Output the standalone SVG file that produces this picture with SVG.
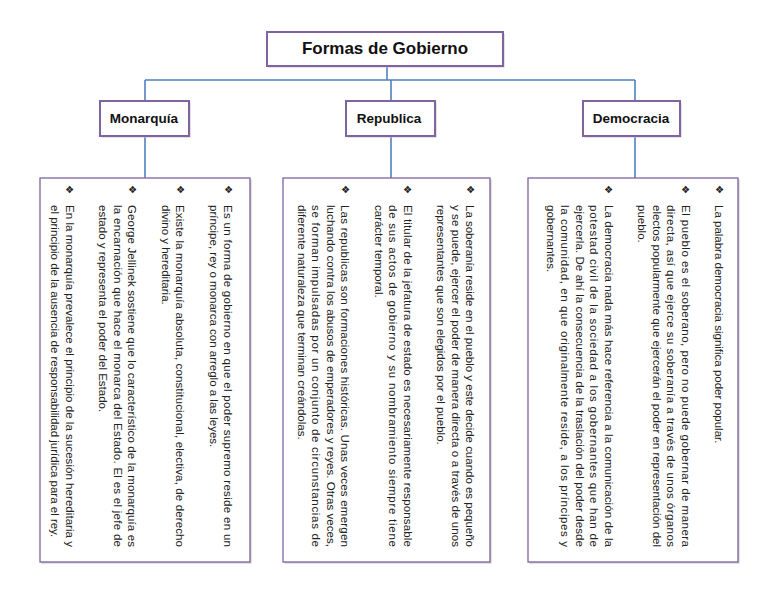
<svg xmlns="http://www.w3.org/2000/svg" width="768" height="594" viewBox="0 0 768 594">
<style>
.hb{fill:#fff;stroke:#8064A2;stroke-width:2}
.sh{fill:#c8c8c8;stroke:none}
.bb{fill:#fff;stroke:#8064A2;stroke-width:1.3}
.ht{font-family:"Liberation Sans",Arial,sans-serif;font-weight:bold;fill:#111;text-anchor:middle}
.tx{font-family:"Liberation Sans",Arial,sans-serif;font-size:11.5px;fill:#222}
.bu{font-family:"DejaVu Sans",sans-serif;font-size:10px;fill:#222}
.cn{fill:none;stroke:#4F81BD;stroke-width:1.6}
</style>
<rect width="768" height="594" fill="#fff"/>
<g id="connectors">
<path class="cn" d="M387 66V80M145 80H635M145 80V101M391 80V101M635 80V101M145 136V178M391 136V178M635 136V178"/>
</g>
<g id="title">
<rect class="sh" x="268.5" y="33.5" width="236" height="34"/>
<rect class="hb" x="267" y="32" width="236" height="34"/>
<text class="ht" x="385" y="54" font-size="17">Formas de Gobierno</text>
</g>
<g id="monarquia">
<rect class="sh" x="101.5" y="102.5" width="89" height="35"/>
<rect class="hb" x="100" y="101" width="89" height="35"/>
<text class="ht" x="144" y="123" font-size="13.5">Monarquía</text>
</g>
<g id="republica">
<rect class="sh" x="347.5" y="102.5" width="89" height="35"/>
<rect class="hb" x="346" y="101" width="89" height="35"/>
<text class="ht" x="389" y="123" font-size="13.5">Republica</text>
</g>
<g id="democracia">
<rect class="sh" x="584.5" y="102.5" width="97" height="35"/>
<rect class="hb" x="583" y="101" width="97" height="35"/>
<text class="ht" x="631" y="123" font-size="13.5">Democracia</text>
</g>
<g id="monarquia-text">
<rect class="sh" x="41.5" y="179.5" width="210" height="384"/>
<rect class="bb" x="40" y="178" width="210" height="384"/>
<g transform="translate(224,205) rotate(90)">
<text class="bu" x="-20" y="-0.5">❖</text>
<text class="tx" x="0" y="0" textLength="342" lengthAdjust="spacing">Es un forma de gobierno en que el poder supremo reside en un</text>
<text class="tx" x="0" y="14.5">príncipe, rey o monarca con arreglo a las leyes.</text>
<text class="bu" x="-20" y="47.5">❖</text>
<text class="tx" x="0" y="48" textLength="342" lengthAdjust="spacing">Existe la monarquía absoluta, constitucional, electiva, de derecho</text>
<text class="tx" x="0" y="62.5">divino y hereditaria.</text>
<text class="bu" x="-20" y="95.5">❖</text>
<text class="tx" x="0" y="96" textLength="342" lengthAdjust="spacing">George Jellinek sostiene que lo característico de la monarquía es</text>
<text class="tx" x="0" y="110.5" textLength="342" lengthAdjust="spacing">la encarnación que hace el monarca del Estado. El es el jefe de</text>
<text class="tx" x="0" y="125">estado y representa el poder del Estado.</text>
<text class="bu" x="-20" y="158">❖</text>
<text class="tx" x="0" y="158.5" textLength="342" lengthAdjust="spacing">En la monarquía prevalece el principio de la sucesión hereditaria y</text>
<text class="tx" x="0" y="173">el principio de la ausencia de responsabilidad jurídica para el rey.</text>
</g>
</g>
<g id="republica-text">
<rect class="sh" x="284.5" y="179.5" width="207" height="384"/>
<rect class="bb" x="283" y="178" width="207" height="384"/>
<g transform="translate(466,205) rotate(90)">
<text class="bu" x="-20" y="-0.5">❖</text>
<text class="tx" x="0" y="0" textLength="342" lengthAdjust="spacing">La soberanía reside en el pueblo y este decide cuando es pequeño</text>
<text class="tx" x="0" y="14.5" textLength="342" lengthAdjust="spacing">y se puede, ejercer el poder de manera directa o a través de unos</text>
<text class="tx" x="0" y="29">representantes que son elegidos por el pueblo.</text>
<text class="bu" x="-20" y="62">❖</text>
<text class="tx" x="0" y="62.5" textLength="342" lengthAdjust="spacing">El titular de la jefatura de estado es necesariamente responsable</text>
<text class="tx" x="0" y="77" textLength="342" lengthAdjust="spacing">de sus actos de gobierno y su nombramiento siempre tiene</text>
<text class="tx" x="0" y="91.5">carácter temporal.</text>
<text class="bu" x="-20" y="124.5">❖</text>
<text class="tx" x="0" y="125" textLength="342" lengthAdjust="spacing">Las republicas son formaciones históricas. Unas veces emergen</text>
<text class="tx" x="0" y="139.5" textLength="342" lengthAdjust="spacing">luchando contra los abusos de emperadores y reyes. Otras veces,</text>
<text class="tx" x="0" y="154" textLength="342" lengthAdjust="spacing">se forman impulsadas por un conjunto de circunstancias de</text>
<text class="tx" x="0" y="168.5">diferente naturaleza que terminan creándolas.</text>
</g>
</g>
<g id="democracia-text">
<rect class="sh" x="529.5" y="179.5" width="210" height="384"/>
<rect class="bb" x="528" y="178" width="210" height="384"/>
<g transform="translate(715,205) rotate(90)">
<text class="bu" x="-20" y="-0.5">❖</text>
<text class="tx" x="0" y="0">La palabra democracia significa poder popular.</text>
<text class="bu" x="-20" y="33">❖</text>
<text class="tx" x="0" y="33.5" textLength="342" lengthAdjust="spacing">El pueblo es el soberano, pero no puede gobernar de manera</text>
<text class="tx" x="0" y="48" textLength="342" lengthAdjust="spacing">directa, así que ejerce su soberanía a través de unos órganos</text>
<text class="tx" x="0" y="62.5" textLength="342" lengthAdjust="spacing">electos popularmente que ejercerán el poder en representación del</text>
<text class="tx" x="0" y="77">pueblo.</text>
<text class="bu" x="-20" y="110">❖</text>
<text class="tx" x="0" y="110.5" textLength="342" lengthAdjust="spacing">La democracia nada más hace referencia a la comunicación de la</text>
<text class="tx" x="0" y="125" textLength="342" lengthAdjust="spacing">potestad civil de la sociedad a los gobernantes que han de</text>
<text class="tx" x="0" y="139.5" textLength="342" lengthAdjust="spacing">ejercerla. De ahí la consecuencia de la traslación del poder desde</text>
<text class="tx" x="0" y="154" textLength="342" lengthAdjust="spacing">la comunidad, en que originalmente reside, a los príncipes y</text>
<text class="tx" x="0" y="168.5">gobernantes.</text>
</g>
</g>
</svg>
